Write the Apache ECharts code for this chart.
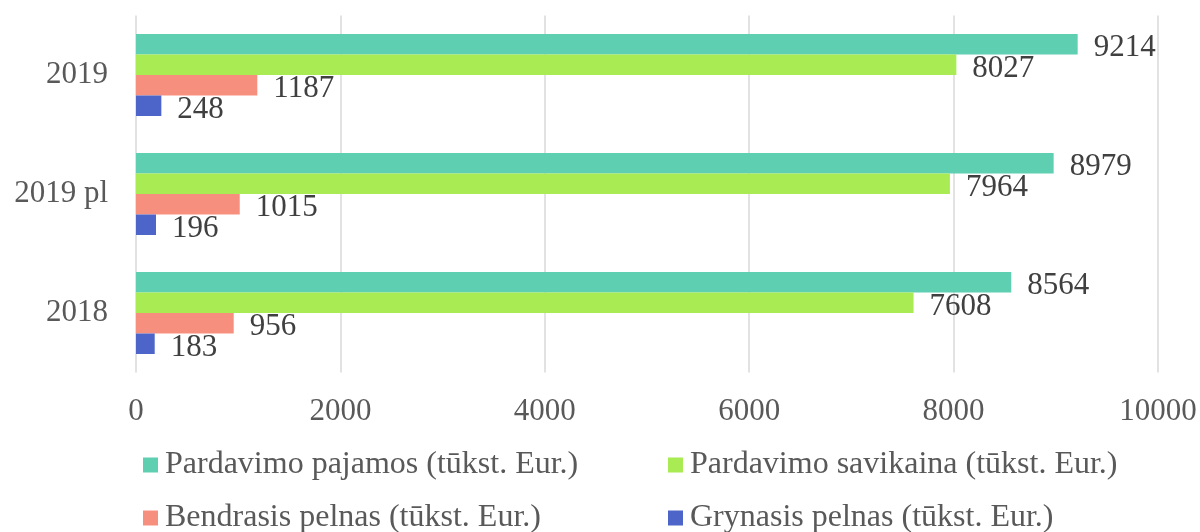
<!DOCTYPE html>
<html>
<head>
<meta charset="utf-8">
<script src="https://cdn.jsdelivr.net/npm/echarts@6/dist/echarts.min.js"></script>
<style>html,body{margin:0;padding:0;background:#fff;}#c{width:1200px;height:532px;}</style>
</head>
<body>
<div id="c"></div>
<script>
const categories = ['2019', '2019 pl', '2018'];
const seriesNames = ['Pardavimo pajamos (tūkst. Eur.)', 'Pardavimo savikaina (tūkst. Eur.)', 'Bendrasis pelnas (tūkst. Eur.)', 'Grynasis pelnas (tūkst. Eur.)'];
const pajamos = [9214, 8979, 8564];
const savikaina = [8027, 7964, 7608];
const bendrasis = [1187, 1015, 956];
const grynasis = [248, 196, 183];
const colors = ['#5ECFB1', '#A8EB53', '#F78F7E', '#4D65C8'];
const values = [pajamos, savikaina, bendrasis, grynasis];

const font = 'Liberation Serif';
const chart = echarts.init(document.getElementById('c'));

const legendPos = [[143, 449], [668, 449], [143, 502], [668, 502]];
const legends = seriesNames.map((n, i) => ({
  data: [n],
  left: legendPos[i][0],
  top: legendPos[i][1],
  padding: 0,
  itemWidth: 15,
  itemHeight: 15,
  icon: 'rect',
  itemGap: 0,
  selectedMode: false,
  textStyle: { fontFamily: font, fontSize: 32, color: '#595959', padding: [0, 0, 0, 2] }
}));

chart.setOption({
  animation: false,
  color: colors,
  legend: legends,
  grid: { left: 136, right: 42, top: 15.5, bottom: 159.5, containLabel: false },
  xAxis: {
    type: 'value', min: 0, max: 10000, interval: 2000,
    axisLine: { show: false }, axisTick: { show: false },
    splitLine: { lineStyle: { color: '#D9D9D9', width: 1.5 } },
    axisLabel: { fontFamily: font, fontSize: 31, color: '#595959', margin: 24, formatter: v => String(v) }
  },
  yAxis: {
    type: 'category', data: categories, inverse: true,
    axisLine: { show: false }, axisTick: { show: false },
    axisLabel: { fontFamily: font, fontSize: 31, color: '#595959', margin: 28 }
  },
  series: values.map((v, i) => ({
    name: seriesNames[i],
    type: 'bar',
    data: v,
    barWidth: 20.5,
    barGap: '0%',
    itemStyle: { color: colors[i] },
    label: {
      show: true, position: 'right', distance: 16, offset: [0, 4],
      fontFamily: font, fontSize: 31, color: '#404040'
    }
  }))
});
</script>
</body>
</html>
